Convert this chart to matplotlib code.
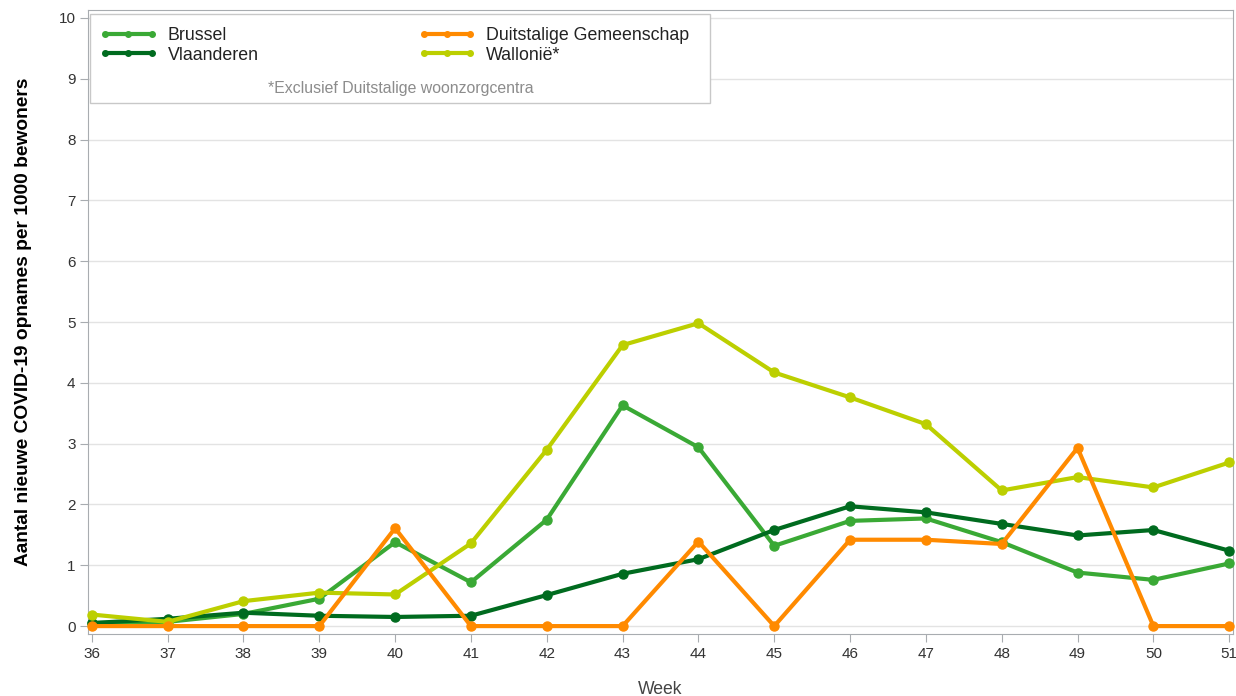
import matplotlib
matplotlib.use("Agg")
import matplotlib.pyplot as plt
from matplotlib.lines import Line2D
from matplotlib.patches import Rectangle

plt.rcParams['font.family'] = ['Liberation Sans', 'DejaVu Sans']

# %% data
weeks = list(range(36, 52))
brussel = [0.05, 0.07, 0.20, 0.45, 1.38, 0.72, 1.75, 3.63, 2.94, 1.32, 1.73, 1.77, 1.38, 0.88, 0.76, 1.03]
vlaanderen = [0.05, 0.12, 0.22, 0.17, 0.15, 0.17, 0.51, 0.86, 1.10, 1.58, 1.97, 1.87, 1.68, 1.49, 1.58, 1.24]
duitstalig = [0.0, 0.0, 0.0, 0.0, 1.61, 0.0, 0.0, 0.0, 1.39, 0.0, 1.42, 1.42, 1.35, 2.93, 0.0, 0.0]
wallonie = [0.19, 0.07, 0.41, 0.55, 0.52, 1.36, 2.90, 4.62, 4.98, 4.17, 3.76, 3.32, 2.23, 2.45, 2.28, 2.69]

series = [
    ("Brussel", brussel, "#3aa935"),
    ("Vlaanderen", vlaanderen, "#006b1f"),
    ("Wallonië*", wallonie, "#bccf00"),
    ("Duitstalige Gemeenschap", duitstalig, "#ff8a00"),
]
legend_order = ["Brussel", "Vlaanderen", "Duitstalige Gemeenschap", "Wallonië*"]

# %% plot
fig = plt.figure(figsize=(12.36, 6.96), dpi=100)
ax = fig.add_axes([88 / 1236, 62 / 696, 1145 / 1236, 624 / 696])

for name, vals, col in series:
    ax.plot(weeks, vals, color=col, lw=3, marker='o', ms=6.5, label=name,
            solid_joinstyle='round', clip_on=False, zorder=3)

ax.set_xlim(35.95, 51.05)
ax.set_ylim(-0.13, 10.13)
ax.set_xticks(weeks)
ax.set_yticks(range(0, 11))
ax.grid(axis='y', color='#e3e3e3', lw=1)
ax.set_axisbelow(True)
for s in ax.spines.values():
    s.set_color('#a8acb0')
ax.tick_params(colors='#a8acb0', labelcolor='#333333', labelsize=11, length=5.5)

ax.set_xlabel("Week", fontsize=12.7, color='#444444', labelpad=15)
ax.set_ylabel("Aantal nieuwe COVID-19 opnames per 1000 bewoners", fontsize=13.8,
              fontweight='bold', labelpad=19)

# legend box
ax.add_patch(Rectangle((2 / 1145, 1 - 93 / 624), 620 / 1145, 89 / 624,
                       transform=ax.transAxes, facecolor='white',
                       edgecolor='#c8c8c8', lw=1, zorder=4))
colors = {n: c for n, _, c in series}
handles = [Line2D([0], [0], color=colors[n], lw=3, marker='o', ms=4) for n in legend_order]
leg = ax.legend(handles, legend_order, ncol=2, loc='upper left',
                bbox_to_anchor=(12 / 1145, 1 - 17 / 624), frameon=False,
                borderpad=0, borderaxespad=0, fontsize=12.8, numpoints=3,
                handlelength=3.2, handletextpad=0.6, columnspacing=9.0,
                labelspacing=0.15, labelcolor='#222222')
leg.set_zorder(5)
ax.text(313 / 1145, 1 - 78 / 624, "*Exclusief Duitstalige woonzorgcentra",
        transform=ax.transAxes, ha='center', va='center', fontsize=11.4,
        color='#8c8c8c', zorder=6)

fig.savefig("out.png", dpi=100)
